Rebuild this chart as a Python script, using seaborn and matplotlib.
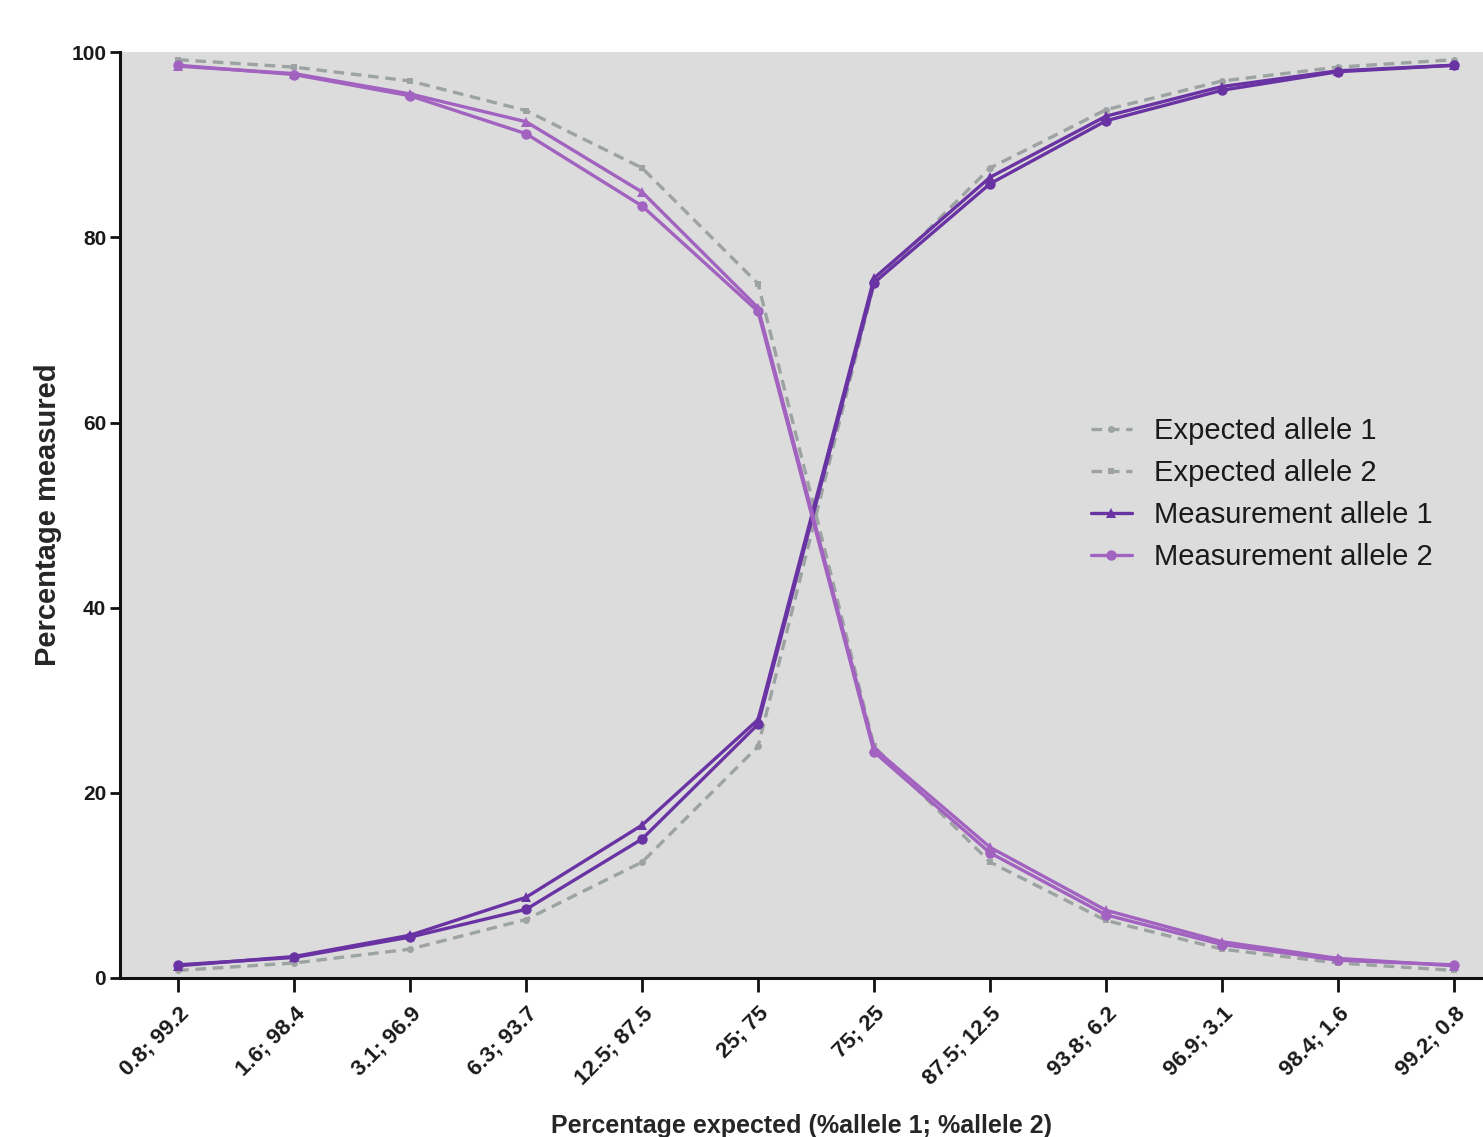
import numpy as np
import pandas as pd
import matplotlib
matplotlib.use("Agg")
import matplotlib.pyplot as plt
import seaborn as sns

# x categories (%allele 1; %allele 2)
categories = ["0.8; 99.2", "1.6; 98.4", "3.1; 96.9", "6.3; 93.7", "12.5; 87.5", "25; 75",
              "75; 25", "87.5; 12.5", "93.8; 6.2", "96.9; 3.1", "98.4; 1.6", "99.2; 0.8"]

expected_a1 = [0.8, 1.6, 3.1, 6.3, 12.5, 25, 75, 87.5, 93.8, 96.9, 98.4, 99.2]
expected_a2 = [99.2, 98.4, 96.9, 93.7, 87.5, 75, 25, 12.5, 6.2, 3.1, 1.6, 0.8]

# two measurement runs per allele
meas_a1_run1 = [1.3, 2.3, 4.6, 8.7, 16.5, 27.9, 75.6, 86.5, 93.1, 96.3, 98.0, 98.6]
meas_a1_run2 = [1.4, 2.2, 4.4, 7.4, 15.0, 27.4, 75.1, 85.8, 92.6, 95.9, 97.9, 98.6]
meas_a2_run1 = [98.6, 97.6, 95.3, 91.2, 83.4, 72.0, 24.4, 13.5, 6.8, 3.6, 1.9, 1.4]
meas_a2_run2 = [98.5, 97.7, 95.5, 92.5, 84.9, 72.4, 24.8, 14.1, 7.3, 3.9, 2.1, 1.3]

# === style ===
sns.set_style("ticks")
plt.rcParams['font.family'] = ['Liberation Sans', 'DejaVu Sans']

GRAY = "#9da3a3"
DARK = "#6a33a3"
LIGHT = "#a262c0"
LW = 2.4

fig = plt.figure(figsize=(14.83, 11.37), dpi=100)
ax = fig.add_axes([0.081, 0.140, 0.919, 0.814])
ax.set_facecolor("#dcdcdc")

pos = np.arange(len(categories))

# expected (dashed grey)
sns.lineplot(x=pos, y=expected_a1, ax=ax, color=GRAY, lw=LW, linestyle=(0, (3.2, 2.0)),
             marker="o", markersize=5, markeredgewidth=0, label="Expected allele 1", zorder=2)
sns.lineplot(x=pos, y=expected_a2, ax=ax, color=GRAY, lw=LW, linestyle=(0, (3.2, 2.0)),
             marker="s", markersize=5, markeredgewidth=0, label="Expected allele 2", zorder=2)

# measurements
sns.lineplot(x=pos, y=meas_a1_run1, ax=ax, color=DARK, lw=LW, marker="^", markersize=7,
             markeredgewidth=0, label="Measurement allele 1", zorder=3)
sns.lineplot(x=pos, y=meas_a1_run2, ax=ax, color=DARK, lw=LW, marker="o", markersize=7.5,
             markeredgewidth=0, label="_nolegend_", zorder=3)
sns.lineplot(x=pos, y=meas_a2_run1, ax=ax, color=LIGHT, lw=LW, marker="o", markersize=7.5,
             markeredgewidth=0, label="Measurement allele 2", zorder=3)
sns.lineplot(x=pos, y=meas_a2_run2, ax=ax, color=LIGHT, lw=LW, marker="^", markersize=7,
             markeredgewidth=0, label="_nolegend_", zorder=3)

# axes
ax.set_xlim(-0.5, 11.25)
ax.set_ylim(0, 100)
ax.set_yticks([0, 20, 40, 60, 80, 100])
ax.set_xticks(pos)
ax.set_xticklabels(categories, rotation=45, ha="right", rotation_mode="anchor",
                   fontsize=16, fontweight="bold", color="#1a1a1a")
for t in ax.get_yticklabels():
    t.set_fontsize(15)
    t.set_fontweight("bold")
    t.set_color("#1a1a1a")
ax.tick_params(axis="x", length=10, width=2, color="#111111", pad=8)
ax.tick_params(axis="y", length=7, width=2, color="#111111", pad=3)

for s in ["top", "right"]:
    ax.spines[s].set_visible(False)
for s in ["left", "bottom"]:
    ax.spines[s].set_linewidth(2.2)
    ax.spines[s].set_color("#111111")

ax.set_ylabel("Percentage measured", fontsize=21, fontweight="bold", labelpad=7)
ax.set_xlabel("Percentage expected (%allele 1; %allele 2)", fontsize=18, fontweight="bold",
              labelpad=18)

leg = ax.legend(loc="upper left", bbox_to_anchor=(0.718, 0.656), bbox_transform=fig.transFigure,
                frameon=False, fontsize=21, handlelength=1.4, handletextpad=0.75,
                labelspacing=0.48)
for t in leg.get_texts():
    t.set_color("#1a1a1a")

fig.savefig("out.png", dpi=100)
